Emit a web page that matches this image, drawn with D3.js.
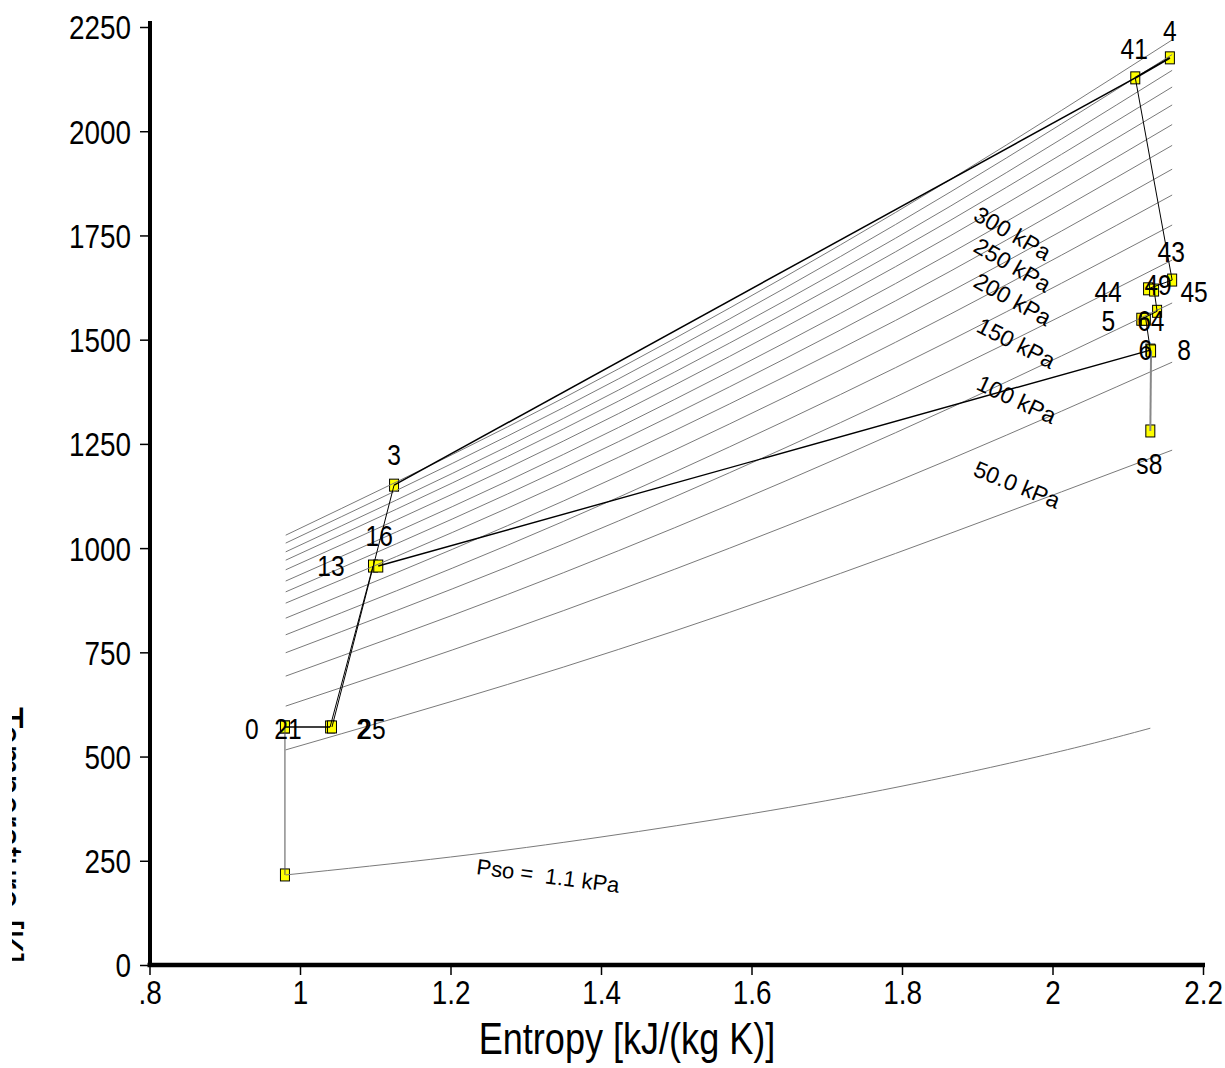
<!DOCTYPE html>
<html><head><meta charset="utf-8">
<script src="https://cdn.jsdelivr.net/npm/d3@7"></script>
<style>
html,body{margin:0;padding:0;background:#fff;}
svg{display:block;}
text{font-family:"Liberation Sans",Arial,sans-serif;fill:#000;}
</style></head><body>
<svg id="chart" width="1225" height="1068"></svg>
<script>
// ---------- data ----------
const xTicks = [0.8, 1.0, 1.2, 1.4, 1.6, 1.8, 2.0, 2.2];
const xTickLabels = [".8", "1", "1.2", "1.4", "1.6", "1.8", "2", "2.2"];
const yTicks = [0, 250, 500, 750, 1000, 1250, 1500, 1750, 2000, 2250];
const yTickLabels = ["0", "250", "500", "750", "1000", "1250", "1500", "1750", "2000", "2250"];

// isobars (kPa) — temperature read at the entropy stations below
const isobarP = [700, 650, 600, 550, 500, 450, 400, 350, 300, 250, 200, 150, 100, 50];
const isobarS = [0.981, 1.276, 1.571, 1.865, 2.159];
const isobarT = [
  [1031, 1291, 1576, 1885, 2219],
  [1012, 1269, 1550, 1855, 2184],
  [991, 1244, 1521, 1821, 2146],
  [971, 1220, 1492, 1787, 2106],
  [948, 1192, 1460, 1750, 2063],
  [921, 1161, 1424, 1708, 2016],
  [895, 1130, 1387, 1665, 1966],
  [868, 1096, 1346, 1616, 1909],
  [832, 1054, 1298, 1562, 1847],
  [792, 1007, 1243, 1499, 1775],
  [749, 955, 1181, 1426, 1691],
  [693, 889, 1104, 1337, 1588],
  [621, 802, 1000, 1214, 1446],
  [516, 673, 846, 1036, 1235]
];
// ambient static pressure isobar (1.1 kPa)
const lowIsobarS = [0.981, 1.2, 1.4, 1.6, 1.8, 2.0, 2.13];
const lowIsobarT = [216, 259, 307, 363, 429, 508, 568];

const isobarLabelText = ["300 kPa", "250 kPa", "200 kPa", "150 kPa", "100 kPa", "50.0 kPa"];
const isobarLabelS = [1.893, 1.893, 1.893, 1.897, 1.897, 1.893];
const isobarLabelT = [1789, 1713, 1629, 1521, 1382, 1175];
const isobarLabelAngle = [30, 30, 29, 27, 25, 22];
const lowLabelText = "Pso =  1.1 kPa";
const lowLabelS = 1.2337, lowLabelT = 218, lowLabelAngle = 7.5;

// cycle stations
const stationNames = ["", "0", "21", "2", "25", "13", "16", "3", "41", "4", "43", "44", "45", "49", "5", "64", "6", "8", "s8"];
const stationS = [0.980, 0.980, 0.980, 1.040, 1.0425, 1.097, 1.104, 1.125, 2.110, 2.156, 2.159, 2.127, 2.135, 2.139, 2.118, 2.124, 2.130, 2.131, 2.130];
const stationT = [216, 571, 571, 571, 571, 957, 957, 1151, 2128, 2176, 1643, 1622, 1619, 1568, 1549, 1549, 1475, 1473, 1281];

const segments = [["", "0"], ["21", "2"], ["2", "13"], ["25", "3"], ["16", "6"], ["3", "41"], ["41", "4"],
  ["41", "43"], ["43", "44"], ["44", "45"], ["45", "49"], ["49", "5"], ["5", "64"], ["64", "6"], ["6", "8"], ["8", "s8"]];

// ---------- layout / style ----------
const W = 1225, H = 1068;
const NARROW = 0.82;   // condensed face emulation
const labelOffset = {"0":[-33,1],"21":[3,1],"2":[33,1],"25":[40,1],"13":[-42,-1],"16":[1,-31],"3":[0,-31],
  "41":[-1,-30],"4":[0,-28],"43":[-1,-29],"44":[-40,2],"45":[40,1],"49":[1,-27],"5":[-33,1],"64":[5,1],
  "6":[-5,-1],"8":[33,-2],"s8":[-1,32]};
const segStyle = {
  "-0": {c:"#555", w:1}, "8-s8": {c:"#888", w:2}, "21-2": {c:"#000", w:1.5},
  "3-41": {c:"#000", w:1.5}, "41-4": {c:"#000", w:2}, "16-6": {c:"#000", w:1.4}
};

const svg = d3.select("#chart");
const x = d3.scaleLinear().domain([0.8, 2.2]).range([149.5, 1203]);
const y = d3.scaleLinear().domain([0, 2250]).range([965, 27]);

// axes
const xAxis = d3.axisBottom(x).tickValues(xTicks).tickFormat((d, i) => xTickLabels[i]).tickSizeInner(10).tickSizeOuter(0).tickPadding(4);
const yAxis = d3.axisLeft(y).tickValues(yTicks).tickFormat((d, i) => yTickLabels[i]).tickSizeInner(10).tickSizeOuter(0).tickPadding(9);

const gx = svg.append("g").attr("transform", "translate(0,965)").call(xAxis);
const gy = svg.append("g").attr("transform", "translate(150,0)").call(yAxis);
gx.select(".domain").remove();
gy.select(".domain").remove();
gx.selectAll(".tick line").attr("stroke", "#000").attr("stroke-width", 1.5);
gy.selectAll(".tick line").attr("stroke", "#000").attr("stroke-width", 1.5);
gx.selectAll(".tick text").attr("font-size", 34).attr("font-family", null).attr("fill", "#000")
  .attr("y", 15).attr("dy", "0.71em").attr("transform", `scale(${NARROW},1)`);
gy.selectAll(".tick text").attr("font-size", 34).attr("font-family", null).attr("fill", "#000")
  .attr("x", -19 / NARROW).attr("dy", "0.35em").attr("transform", `scale(${NARROW},1)`);
svg.append("line").attr("x1", 150).attr("x2", 150).attr("y1", y(2250) - 6).attr("y2", 967).attr("stroke", "#000").attr("stroke-width", 4);
svg.append("line").attr("x1", x(0.8) - 2).attr("x2", x(2.2) + 2).attr("y1", 965).attr("y2", 965).attr("stroke", "#000").attr("stroke-width", 4.5);

// axis titles
svg.append("text").attr("transform", `translate(627,1054) scale(${NARROW},1)`).attr("text-anchor", "middle")
  .attr("font-size", 44).text("Entropy [kJ/(kg K)]");
svg.append("clipPath").attr("id", "ytclip").append("rect").attr("x", 12).attr("y", 0).attr("width", 100).attr("height", H);
svg.append("g").attr("clip-path", "url(#ytclip)").append("text")
  .attr("transform", `translate(-8,835) rotate(90) scale(${NARROW},1)`).attr("text-anchor", "middle")
  .attr("font-size", 44).text("Temperature [K]");

// markers (drawn first; lines pass over them)
const stations = stationNames.map((n, i) => ({name: n, s: stationS[i], T: stationT[i]}));
svg.append("g").selectAll("rect").data(stations).join("rect")
  .attr("x", d => x(d.s) - 4.5).attr("y", d => y(d.T) - 6).attr("width", 9).attr("height", 12)
  .attr("fill", "#ffff00").attr("stroke", "#000").attr("stroke-width", 1);

// isobars
const line = d3.line().x(d => x(d[0])).y(d => y(d[1])).curve(d3.curveNatural);
const isoG = svg.append("g").attr("fill", "none").attr("stroke", "#7a7a7a").attr("stroke-width", 1);
isobarT.forEach((row) => {
  isoG.append("path").attr("d", line(row.map((t, j) => [isobarS[j], t])));
});
isoG.append("path").attr("d", line(lowIsobarT.map((t, j) => [lowIsobarS[j], t])));

// isobar labels
isobarLabelText.forEach((t, i) => {
  svg.append("text").attr("font-size", 23)
    .attr("transform", `translate(${x(isobarLabelS[i])},${y(isobarLabelT[i])}) rotate(${isobarLabelAngle[i]})`)
    .text(t);
});
svg.append("text").attr("font-size", 22).style("white-space", "pre")
  .attr("transform", `translate(${x(lowLabelS)},${y(lowLabelT)}) rotate(${lowLabelAngle})`)
  .text(lowLabelText);

// cycle lines
const byName = {};
stations.forEach(d => { if (!(d.name in byName)) byName[d.name] = d; });
const cycG = svg.append("g").attr("fill", "none");
segments.forEach(([a, b]) => {
  const st = segStyle[a + "-" + b] || {c: "#000", w: 1};
  cycG.append("line").attr("x1", x(byName[a].s)).attr("y1", y(byName[a].T))
    .attr("x2", x(byName[b].s)).attr("y2", y(byName[b].T))
    .attr("stroke", st.c).attr("stroke-width", st.w);
});

// station labels
svg.append("g").selectAll("text").data(stations.filter(d => d.name !== "")).join("text")
  .attr("transform", d => `translate(${x(d.s) + labelOffset[d.name][0]},${y(d.T) + labelOffset[d.name][1] + 11}) scale(${NARROW},1)`)
  .attr("text-anchor", "middle").attr("font-size", 30)
  .text(d => d.name);
</script>
</body></html>
